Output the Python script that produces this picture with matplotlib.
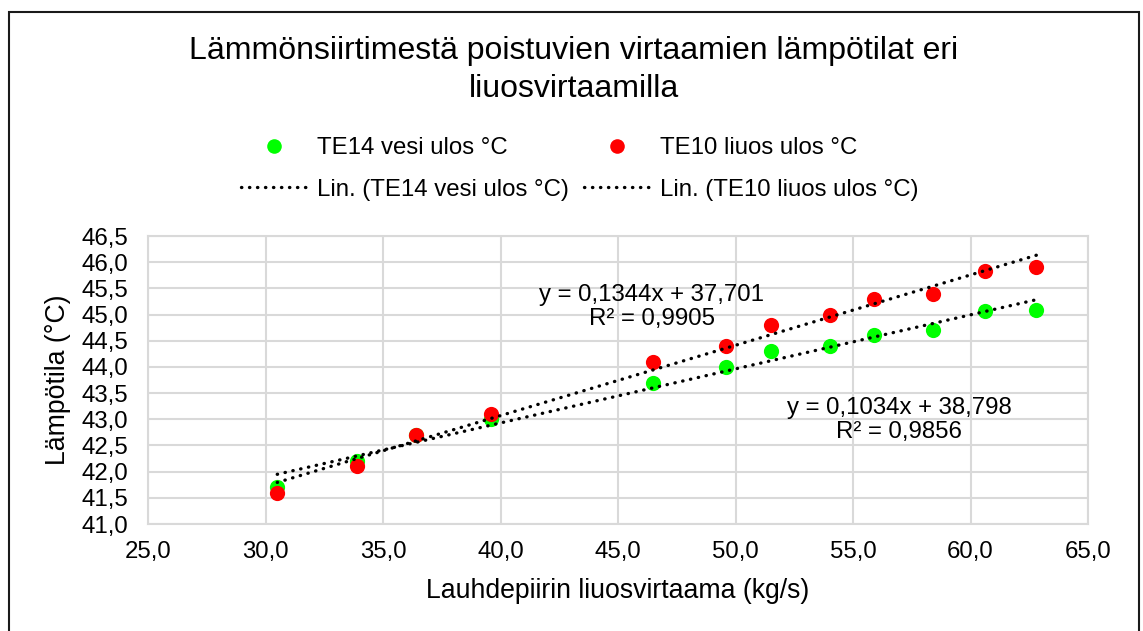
import matplotlib
matplotlib.use("Agg")
import matplotlib.pyplot as plt
import numpy as np
from matplotlib.lines import Line2D
from matplotlib.patches import Rectangle

# ==============================================================
#  DATA
# ==============================================================
flow = [30.5, 33.9, 36.4, 39.6, 46.5, 49.6, 51.5, 54.0, 55.9, 58.4, 60.6, 62.8]
te14_water = [41.7, 42.2, 42.7, 43.0, 43.7, 44.0, 44.3, 44.4, 44.6, 44.7, 45.07, 45.08]
te10_sol = [41.6, 42.1, 42.7, 43.1, 44.1, 44.4, 44.8, 45.0, 45.3, 45.4, 45.83, 45.9]

label_te14 = "TE14 vesi ulos °C"
label_te10 = "TE10 liuos ulos °C"
eq_te10 = "y = 0,1344x + 37,701\nR² = 0,9905"
eq_te14 = "y = 0,1034x + 38,798\nR² = 0,9856"

xticks = np.arange(25, 65.1, 5)
yticks = np.arange(41.0, 46.51, 0.5)

GREEN = "#00ff00"
RED = "#ff0000"
GRID = "#d9d9d9"
FONT = "Liberation Sans"

plt.rcParams["font.family"] = [FONT, "DejaVu Sans"]

# ==============================================================
#  LAYOUT
# ==============================================================
W, H = 1143, 631
fig = plt.figure(figsize=(W / 100, H / 100), dpi=100, facecolor="white")
ax = fig.add_axes([148 / W, 1 - 524 / H, (1088 - 148) / W, (524 - 236) / H])

# outer chart border (bottom edge sits outside the picture)
fig.add_artist(Rectangle((9 / W, -0.05), (1139 - 9) / W, 1.05 - 12 / H,
                         transform=fig.transFigure, fill=False,
                         edgecolor="#1a1a1a", linewidth=1.5))

# points
ax.scatter(flow, te14_water, s=120, color=GREEN, zorder=3, linewidths=0)
ax.scatter(flow, te10_sol, s=120, color=RED, zorder=4, linewidths=0)

# linear trendlines
xs = np.array([min(flow), max(flow)])
dot = (0, (0.1, 2.3))
for ys in (te14_water, te10_sol):
    k, b = np.polyfit(flow, ys, 1)
    ax.plot(xs, k * xs + b, color="black", linewidth=2.4,
            linestyle=dot, dash_capstyle="round", zorder=5)

ax.text(46.43, 45.14, eq_te10, ha="center", va="center", fontsize=17.3,
        linespacing=1.1, zorder=6)
ax.text(56.97, 42.99, eq_te14, ha="center", va="center", fontsize=17.3,
        linespacing=1.1, zorder=6)

# axes styling
ax.set_xlim(25, 65)
ax.set_ylim(41.0, 46.5)
ax.set_xticks(xticks)
ax.set_yticks(yticks)
ax.set_xticklabels([f"{v:.1f}".replace(".", ",") for v in xticks])
ax.set_yticklabels([f"{v:.1f}".replace(".", ",") for v in yticks])
ax.tick_params(length=0, labelsize=17.3, colors="black")
ax.tick_params(axis="y", pad=14)
ax.tick_params(axis="x", pad=12)
ax.grid(True, color=GRID, linewidth=1.5, zorder=0)
ax.set_axisbelow(True)
for spine in ax.spines.values():
    spine.set_color(GRID)
    spine.set_linewidth(1.5)

fig.text(58 / W, 1 - 380 / H, "Lämpötila (°C)", rotation=90,
         ha="center", va="center", fontsize=19.2)
fig.text(618 / W, 1 - 591 / H, "Lauhdepiirin liuosvirtaama (kg/s)",
         ha="center", va="center", fontsize=19.2)

# title
fig.text(574 / W, 1 - 70 / H,
         "Lämmönsiirtimestä poistuvien virtaamien lämpötilat eri\nliuosvirtaamilla",
         ha="center", va="center", fontsize=23, linespacing=1.38)

# legend: markers + trendlines, two columns
handles = [
    Line2D([], [], marker="o", linestyle="none", markersize=10.5,
           markerfacecolor=GREEN, markeredgewidth=0),
    Line2D([], [], color="black", linewidth=2.4, linestyle=dot,
           dash_capstyle="round"),
    Line2D([], [], marker="o", linestyle="none", markersize=10.5,
           markerfacecolor=RED, markeredgewidth=0),
    Line2D([], [], color="black", linewidth=2.4, linestyle=dot,
           dash_capstyle="round"),
]
labels = [label_te14, "Lin. (" + label_te14 + ")",
          label_te10, "Lin. (" + label_te10 + ")"]
fig.legend(handles, labels, ncol=2, frameon=False, loc="center",
           bbox_to_anchor=(580 / W, 1 - 169 / H),
           fontsize=17.3, handlelength=2.75, handletextpad=0.42,
           columnspacing=0.62, labelspacing=0.82, borderpad=0)

plt.savefig("out.png", dpi=100, facecolor=fig.get_facecolor())
